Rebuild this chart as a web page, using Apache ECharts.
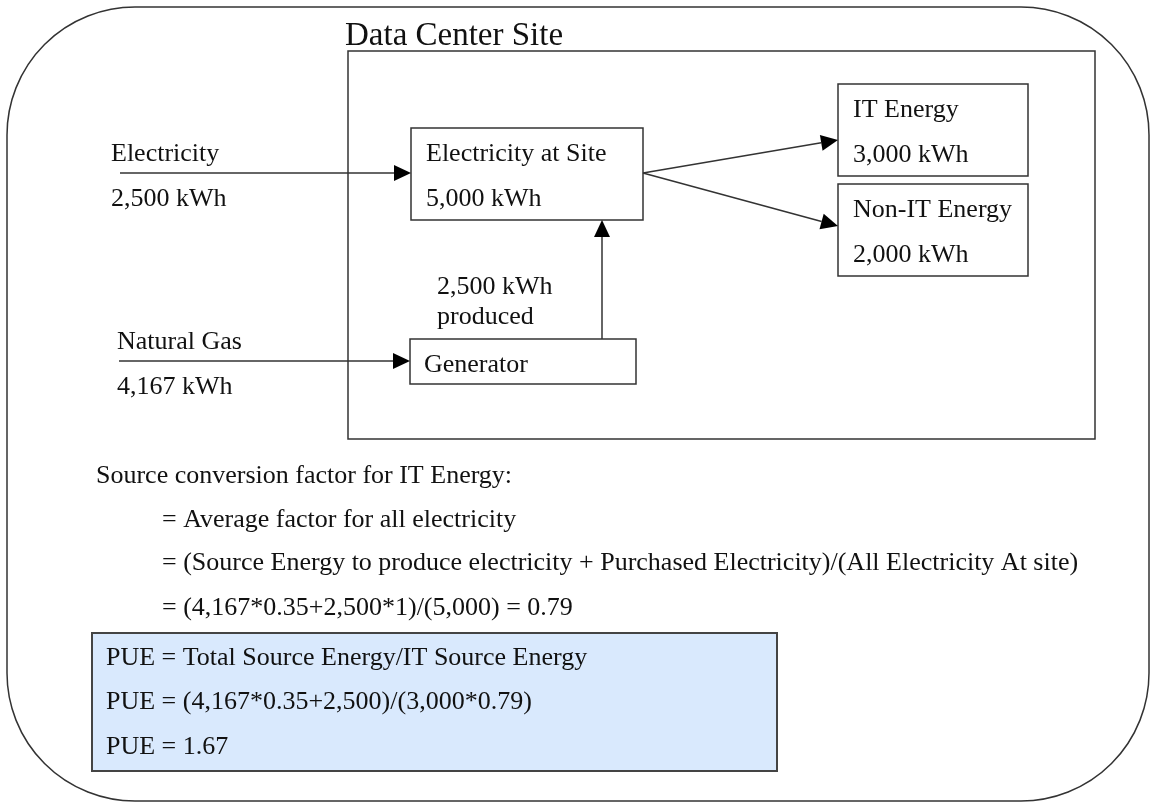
<!DOCTYPE html>
<html>
<head>
<meta charset="utf-8">
<title>Data Center Site PUE</title>
<script src="https://cdn.jsdelivr.net/npm/echarts@6/dist/echarts.min.js"></script>
<style>
  html, body { margin: 0; padding: 0; background: #fff; }
  #chart { width: 1150px; height: 802px; }
</style>
</head>
<body>
<div id="chart"></div>
<script>
// values
var title = 'Data Center Site';
var sourceNames = ['Electricity', 'Natural Gas'];
var sourceKwh = [2500, 4167];
var sourceFactor = [1, 0.35];          // source conversion factor per input
var siteNames = ['Electricity at Site', 'IT Energy', 'Non-IT Energy'];
var siteKwh = [5000, 3000, 2000];
var generatorName = 'Generator';
var generatorKwh = 2500;

var fmt = function (v) { return v.toLocaleString('en-US'); };
var kwh = function (v) { return fmt(v) + ' kWh'; };

// derived numbers shown in the formulas
var avgFactor = Math.round((sourceKwh[1] * sourceFactor[1] + sourceKwh[0] * sourceFactor[0]) / siteKwh[0] * 100) / 100;
var pue = Math.round((sourceKwh[1] * sourceFactor[1] + sourceKwh[0]) / (siteKwh[1] * avgFactor) * 100) / 100;

var noteLines = [
  'Source conversion factor for IT Energy:',
  '= Average factor for all electricity',
  '= (Source Energy to produce electricity + Purchased Electricity)/(All Electricity At site)',
  '= (' + fmt(sourceKwh[1]) + '*' + sourceFactor[1] + '+' + fmt(sourceKwh[0]) + '*' + sourceFactor[0] + ')/(' + fmt(siteKwh[0]) + ') = ' + avgFactor.toFixed(2)
];
var pueLines = [
  'PUE = Total Source Energy/IT Source Energy',
  'PUE = (' + fmt(sourceKwh[1]) + '*' + sourceFactor[1] + '+' + fmt(sourceKwh[0]) + ')/(' + fmt(siteKwh[1]) + '*' + avgFactor.toFixed(2) + ')',
  'PUE = ' + pue.toFixed(2)
];

// layout (pixels)
var FONT = '"Liberation Serif", "Times New Roman", serif';
var LINE = '#333';
var INK = '#111';
var layout = {
  outer: { x: 7, y: 7, w: 1142, h: 794, r: 128 },
  site: { x: 348, y: 51, w: 747, h: 388 },
  titlePos: [345, 43],
  boxes: [
    { x: 411, y: 128, w: 232, h: 92 },
    { x: 838, y: 84, w: 190, h: 92 },
    { x: 838, y: 184, w: 190, h: 92 }
  ],
  gen: { x: 410, y: 339, w: 226, h: 45 },
  sources: [
    { x: 111, lineX: 120, lineY: 173 },
    { x: 117, lineX: 119, lineY: 361 }
  ],
  genUpX: 602,
  producedPos: [437, 292],
  notes: { x: [96, 162, 162, 162], y: [481, 525, 568, 613] },
  pueBox: { x: 92, y: 633, w: 685, h: 138 },
  pueText: { x: 106, y: [663, 707, 752] }
};

var els = [];

function text(str, x, baseline, size) {
  size = size || 26;
  els.push({
    type: 'text',
    style: {
      text: str, x: x, y: baseline - size * 0.2,
      font: size + 'px ' + FONT, fill: INK,
      align: 'left', verticalAlign: 'middle'
    },
    z: 10
  });
}

function box(b, fill) {
  els.push({
    type: 'rect',
    shape: { x: b.x, y: b.y, width: b.w, height: b.h, r: b.r || 0 },
    style: { fill: fill || 'none', stroke: LINE, lineWidth: 1.5 },
    z: b.z || 2
  });
}

function arrow(x1, y1, x2, y2) {
  var len = 17, half = 8;
  var dx = x2 - x1, dy = y2 - y1;
  var d = Math.sqrt(dx * dx + dy * dy);
  var ux = dx / d, uy = dy / d;
  var bx = x2 - ux * len, by = y2 - uy * len;
  els.push({
    type: 'line',
    shape: { x1: x1, y1: y1, x2: bx, y2: by },
    style: { stroke: LINE, lineWidth: 1.5 },
    z: 5
  });
  els.push({
    type: 'polygon',
    shape: { points: [[x2, y2], [bx - uy * half, by + ux * half], [bx + uy * half, by - ux * half]] },
    style: { fill: '#000' },
    z: 5
  });
}

// frames
box({ x: layout.outer.x, y: layout.outer.y, w: layout.outer.w, h: layout.outer.h, r: layout.outer.r, z: 1 });
box({ x: layout.site.x, y: layout.site.y, w: layout.site.w, h: layout.site.h, z: 1 });
text(title, layout.titlePos[0], layout.titlePos[1], 33);

// site boxes
siteNames.forEach(function (name, i) {
  var b = layout.boxes[i];
  box(b, '#fff');
  text(name, b.x + 15, b.y + 31);
  text(kwh(siteKwh[i]), b.x + 15, b.y + 76);
});

// generator
box(layout.gen, '#fff');
text(generatorName, layout.gen.x + 14, layout.gen.y + 31);
text(kwh(generatorKwh), layout.producedPos[0], layout.producedPos[1]);
text('produced', layout.producedPos[0], layout.producedPos[1] + 30);
arrow(layout.genUpX, layout.gen.y, layout.genUpX, layout.boxes[0].y + layout.boxes[0].h);

// purchased inputs
sourceNames.forEach(function (name, i) {
  var s = layout.sources[i];
  var target = i === 0 ? layout.boxes[0].x : layout.gen.x;
  text(name, s.x, s.lineY - 14);
  text(kwh(sourceKwh[i]), s.x, s.lineY + 31);
  arrow(s.lineX, s.lineY, target, s.lineY);
});

// split to IT / Non-IT
var src = layout.boxes[0];
var sx = src.x + src.w, sy = layout.sources[0].lineY;
arrow(sx, sy, layout.boxes[1].x, 140);
arrow(sx, sy, layout.boxes[2].x, 226);

// notes
noteLines.forEach(function (t, i) {
  text(t, layout.notes.x[i], layout.notes.y[i]);
});

// PUE box
box({ x: layout.pueBox.x, y: layout.pueBox.y, w: layout.pueBox.w, h: layout.pueBox.h, z: 2 }, '#d9e9fd');
els[els.length - 1].style.lineWidth = 2;
els[els.length - 1].style.stroke = '#444';
pueLines.forEach(function (t, i) {
  text(t, layout.pueText.x, layout.pueText.y[i]);
});

var chart = echarts.init(document.getElementById('chart'), null, { renderer: 'canvas' });
chart.setOption({
  backgroundColor: '#fff',
  animation: false,
  graphic: { elements: els }
});
</script>
</body>
</html>
